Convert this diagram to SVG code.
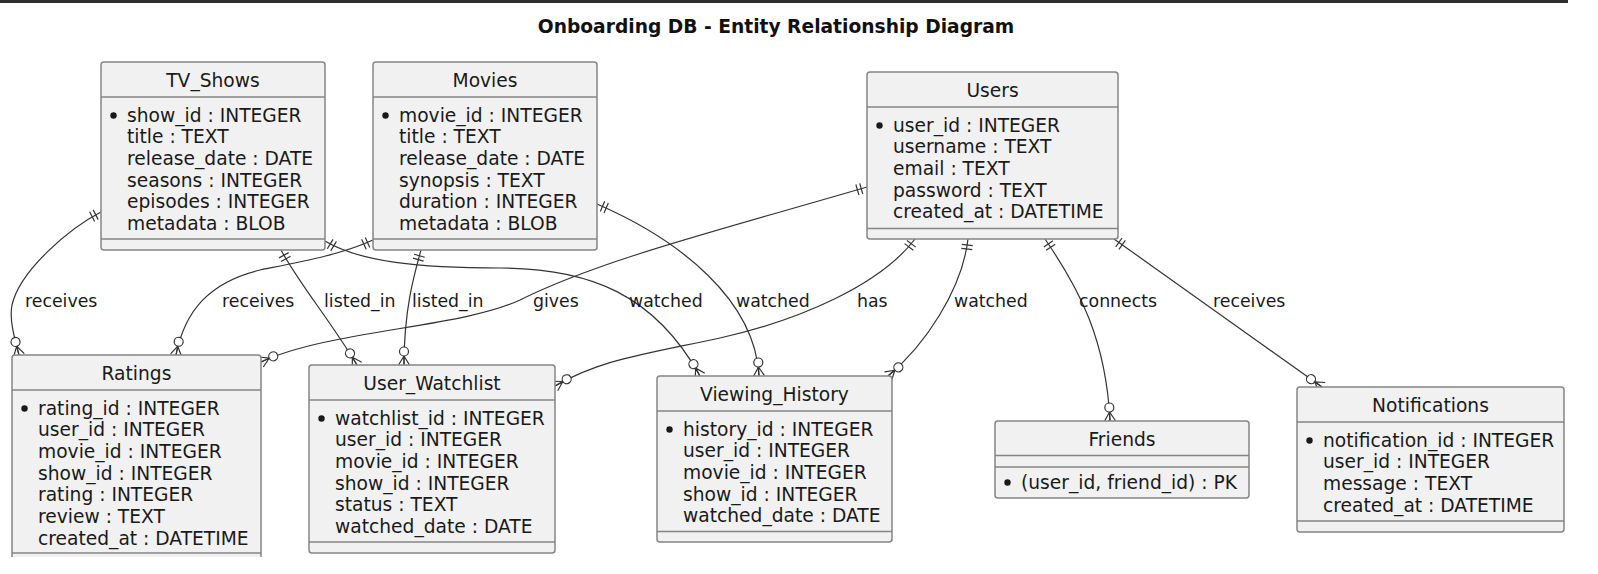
<svg xmlns="http://www.w3.org/2000/svg" width="1598" height="574" viewBox="0 0 1598 574">
<style>
.box{fill:#f1f1f1;stroke:#858585;stroke-width:1.5}
.edge{fill:none;stroke:#858585;stroke-width:1.5}
.sep{stroke:#858585;stroke-width:1.5}
.t{font-family:"DejaVu Sans",sans-serif;font-size:18.67px;fill:#1a1a1a}
.h{text-anchor:middle}
.lbl{font-family:"DejaVu Sans",sans-serif;font-size:17.33px;fill:#1a1a1a}
.ttl{font-family:"DejaVu Sans",sans-serif;font-size:18.67px;font-weight:bold;fill:#111;text-anchor:middle}
.pk{fill:#1a1a1a}
.link{fill:none;stroke:#333;stroke-width:1.2;marker-start:url(#one);marker-end:url(#many)}
</style>
<defs>
<marker id="one" markerUnits="userSpaceOnUse" markerWidth="30" markerHeight="30" refX="0" refY="0" orient="auto" overflow="visible">
<path d="M6,-5.5V5.5M10,-5.5V5.5" stroke="#333" stroke-width="1.2" fill="none"/>
</marker>
<marker id="many" markerUnits="userSpaceOnUse" markerWidth="30" markerHeight="30" refX="0" refY="0" orient="auto" overflow="visible">
<path d="M-9,0L0,-5.5M-9,0L0,0M-9,0L0,5.5" stroke="#333" stroke-width="1.2" fill="none"/>
<circle cx="-13.5" cy="0" r="4.5" fill="#fff" stroke="#333" stroke-width="1.2"/>
</marker>
</defs>
<rect x="0" y="0" width="1568" height="3" fill="#2e2e2e"/>
<text class="ttl" x="776" y="33">Onboarding DB - Entity Relationship Diagram</text>

<g id="connectors">
<path class="link" d="M101,212 C70,228 20,270 12,305 C9,320 15,340 19,355"/>
<path class="link" d="M373,240 C340,255 300,262 260,270 C210,282 185,310 176,355"/>
<path class="link" d="M281,250 C300,285 330,320 357,365"/>
<path class="link" d="M421,250 C414,275 404,310 404,365"/>
<path class="link" d="M325,241 C360,262 420,268 500,268 C590,268 655,295 700,376"/>
<path class="link" d="M597,204 C680,240 755,300 759,376"/>
<path class="link" d="M867,187 C720,230 600,260 520,300 C460,328 330,330 261,362"/>
<path class="link" d="M915,239 C880,285 800,320 720,338 C640,355 600,360 555,386"/>
<path class="link" d="M968,239 C962,290 925,345 888,376"/>
<path class="link" d="M1045,239 C1080,290 1106,340 1110,421"/>
<path class="link" d="M1114,239 L1322,387"/>
<text class="lbl" x="25" y="307">receives</text>
<text class="lbl" x="222" y="307">receives</text>
<text class="lbl" x="324" y="307">listed_in</text>
<text class="lbl" x="412" y="307">listed_in</text>
<text class="lbl" x="533" y="307">gives</text>
<text class="lbl" x="629" y="307">watched</text>
<text class="lbl" x="736" y="307">watched</text>
<text class="lbl" x="857" y="307">has</text>
<text class="lbl" x="954" y="307">watched</text>
<text class="lbl" x="1079" y="307">connects</text>
<text class="lbl" x="1213" y="307">receives</text>
</g>

<g id="TV_Shows">
<rect class="box" x="101" y="62" width="224" height="188" rx="3"/>
<line class="sep" x1="101" y1="97" x2="325" y2="97"/>
<line class="sep" x1="101" y1="239" x2="325" y2="239"/>
<text class="t h" x="213" y="87">TV_Shows</text>
<circle class="pk" cx="113.5" cy="115.5" r="3.2"/>
<text class="t" x="127" y="121.5">show_id : INTEGER</text>
<text class="t" x="127" y="143.2">title : TEXT</text>
<text class="t" x="127" y="164.9">release_date : DATE</text>
<text class="t" x="127" y="186.6">seasons : INTEGER</text>
<text class="t" x="127" y="208.3">episodes : INTEGER</text>
<text class="t" x="127" y="230">metadata : BLOB</text>
</g>

<g id="Movies">
<rect class="box" x="373" y="62" width="224" height="188" rx="3"/>
<line class="sep" x1="373" y1="97" x2="597" y2="97"/>
<line class="sep" x1="373" y1="239" x2="597" y2="239"/>
<text class="t h" x="485" y="87">Movies</text>
<circle class="pk" cx="385.5" cy="115.5" r="3.2"/>
<text class="t" x="399" y="121.5">movie_id : INTEGER</text>
<text class="t" x="399" y="143.2">title : TEXT</text>
<text class="t" x="399" y="164.9">release_date : DATE</text>
<text class="t" x="399" y="186.6">synopsis : TEXT</text>
<text class="t" x="399" y="208.3">duration : INTEGER</text>
<text class="t" x="399" y="230">metadata : BLOB</text>
</g>

<g id="Users">
<rect class="box" x="867" y="72" width="251" height="167" rx="3"/>
<line class="sep" x1="867" y1="107" x2="1118" y2="107"/>
<line class="sep" x1="867" y1="228.5" x2="1118" y2="228.5"/>
<text class="t h" x="992.5" y="97">Users</text>
<circle class="pk" cx="879.5" cy="125.5" r="3.2"/>
<text class="t" x="893" y="131.5">user_id : INTEGER</text>
<text class="t" x="893" y="153.2">username : TEXT</text>
<text class="t" x="893" y="174.9">email : TEXT</text>
<text class="t" x="893" y="196.6">password : TEXT</text>
<text class="t" x="893" y="218.3">created_at : DATETIME</text>
</g>

<g id="Ratings">
<rect x="12" y="355" width="249" height="202" fill="#f1f1f1"/>
<path class="edge" d="M12,557 V358 Q12,355 15,355 H258 Q261,355 261,358 V557"/>
<line class="sep" x1="12" y1="390" x2="261" y2="390"/>
<line class="sep" x1="12" y1="553" x2="261" y2="553"/>
<text class="t h" x="136.5" y="380">Ratings</text>
<circle class="pk" cx="24.5" cy="408.5" r="3.2"/>
<text class="t" x="38" y="414.5">rating_id : INTEGER</text>
<text class="t" x="38" y="436.2">user_id : INTEGER</text>
<text class="t" x="38" y="457.9">movie_id : INTEGER</text>
<text class="t" x="38" y="479.6">show_id : INTEGER</text>
<text class="t" x="38" y="501.3">rating : INTEGER</text>
<text class="t" x="38" y="523">review : TEXT</text>
<text class="t" x="38" y="544.7">created_at : DATETIME</text>
</g>

<g id="User_Watchlist">
<rect class="box" x="309" y="365" width="246" height="188" rx="3"/>
<line class="sep" x1="309" y1="400" x2="555" y2="400"/>
<line class="sep" x1="309" y1="542" x2="555" y2="542"/>
<text class="t h" x="432" y="390">User_Watchlist</text>
<circle class="pk" cx="321.5" cy="418.5" r="3.2"/>
<text class="t" x="335" y="424.5">watchlist_id : INTEGER</text>
<text class="t" x="335" y="446.2">user_id : INTEGER</text>
<text class="t" x="335" y="467.9">movie_id : INTEGER</text>
<text class="t" x="335" y="489.6">show_id : INTEGER</text>
<text class="t" x="335" y="511.3">status : TEXT</text>
<text class="t" x="335" y="533">watched_date : DATE</text>
</g>

<g id="Viewing_History">
<rect class="box" x="657" y="376" width="235" height="166" rx="3"/>
<line class="sep" x1="657" y1="411" x2="892" y2="411"/>
<line class="sep" x1="657" y1="531.5" x2="892" y2="531.5"/>
<text class="t h" x="774.5" y="401">Viewing_History</text>
<circle class="pk" cx="669.5" cy="429.5" r="3.2"/>
<text class="t" x="683" y="435.5">history_id : INTEGER</text>
<text class="t" x="683" y="457.2">user_id : INTEGER</text>
<text class="t" x="683" y="478.9">movie_id : INTEGER</text>
<text class="t" x="683" y="500.6">show_id : INTEGER</text>
<text class="t" x="683" y="522.3">watched_date : DATE</text>
</g>

<g id="Friends">
<rect class="box" x="995" y="421" width="254" height="77" rx="3"/>
<line class="sep" x1="995" y1="455.5" x2="1249" y2="455.5"/>
<line class="sep" x1="995" y1="467" x2="1249" y2="467"/>
<text class="t h" x="1122" y="446">Friends</text>
<circle class="pk" cx="1007.5" cy="482.5" r="3.2"/>
<text class="t" x="1021" y="488.5">(user_id, friend_id) : PK</text>
</g>

<g id="Notifications">
<rect class="box" x="1297" y="387" width="267" height="145" rx="3"/>
<line class="sep" x1="1297" y1="422" x2="1564" y2="422"/>
<line class="sep" x1="1297" y1="521" x2="1564" y2="521"/>
<text class="t h" x="1430.5" y="412">Notifications</text>
<circle class="pk" cx="1309.5" cy="440.5" r="3.2"/>
<text class="t" x="1323" y="446.5">notification_id : INTEGER</text>
<text class="t" x="1323" y="468.2">user_id : INTEGER</text>
<text class="t" x="1323" y="489.9">message : TEXT</text>
<text class="t" x="1323" y="511.6">created_at : DATETIME</text>
</g>
</svg>
